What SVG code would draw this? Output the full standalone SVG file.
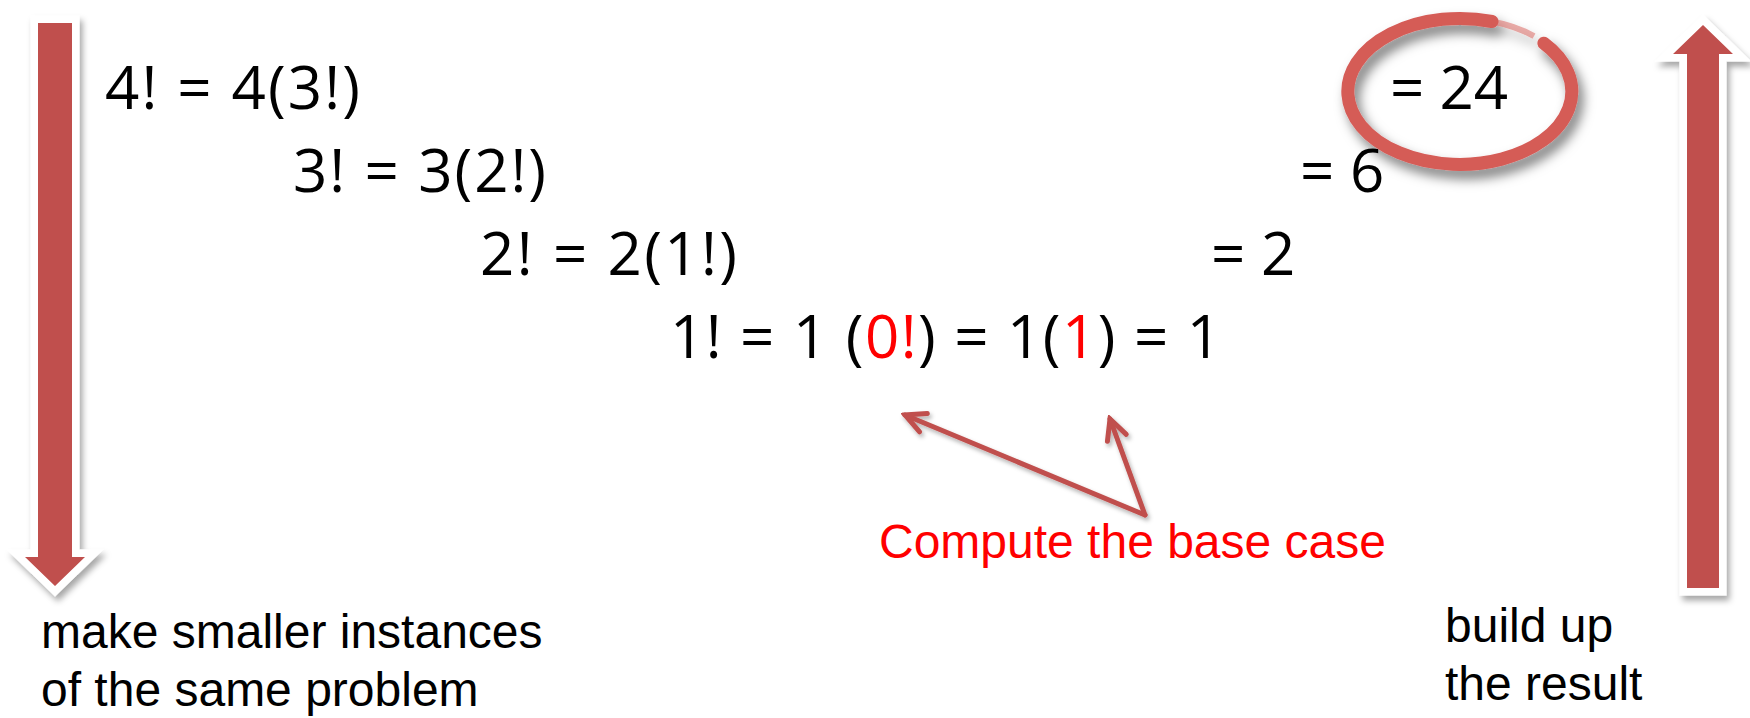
<svg xmlns="http://www.w3.org/2000/svg" width="1750" height="718" viewBox="0 0 1750 718">
<style>
  .math { font-family: "Open Sans", "Noto Sans", sans-serif; font-size: 60px; fill: #000; }
  .red { fill: #FF0000; }
  .label { font-family: "Liberation Sans", Arial, sans-serif; font-size: 48px; fill: #000; }
  .note { font-family: "Liberation Sans", Arial, sans-serif; font-size: 48px; fill: #FF0000; }
  .block { fill: #C0504D; stroke: #FFFFFF; stroke-width: 15; stroke-linejoin: miter; paint-order: stroke; }
  .conn { fill: none; stroke: #C0504D; stroke-width: 5; stroke-linecap: round; }
</style>
<defs>
  <filter id="blockShadow" x="-50%" y="-10%" width="200%" height="120%">
    <feDropShadow dx="3" dy="5" stdDeviation="3" flood-color="#000" flood-opacity="0.35"/>
  </filter>
  <filter id="ringShadow" x="-20%" y="-20%" width="140%" height="150%">
    <feDropShadow dx="5" dy="8" stdDeviation="6" flood-color="#000" flood-opacity="0.5"/>
  </filter>
  <filter id="lineShadow" x="-20%" y="-20%" width="140%" height="140%">
    <feDropShadow dx="2" dy="3" stdDeviation="2" flood-color="#000" flood-opacity="0.3"/>
  </filter>
  <marker id="chev" viewBox="-3 -3 27 26" refX="20" refY="10" markerWidth="27" markerHeight="26" markerUnits="userSpaceOnUse" orient="auto">
    <path d="M0,0 L20,10 L0,20" fill="none" stroke="#C0504D" stroke-width="5" stroke-linecap="round" stroke-linejoin="miter"/>
  </marker>
</defs>
<rect width="1750" height="718" fill="#FFFFFF"/>

<g id="arrow-down" filter="url(#blockShadow)">
  <path class="block" d="M38,23 L72,23 L72,557 L85,557 L55,586 L25,557 L38,557 Z"/>
</g>
<g id="arrow-up" filter="url(#blockShadow)">
  <path class="block" d="M1703,25 L1733,54 L1719,54 L1719,588 L1687,588 L1687,54 L1673,54 Z"/>
</g>

<g id="ring" filter="url(#ringShadow)">
  <path d="M1543.9,43.2 A112,73 0 1 1 1492,21.5" fill="none" stroke="#D55B57" stroke-width="13" stroke-linecap="round"/>
  <path d="M1492,21.5 A112,73 0 0 1 1534,36.1" fill="none" stroke="#D55B57" stroke-width="6" stroke-opacity="0.5"/>
</g>

<g id="line1"><text class="math" x="105" y="109" textLength="255" lengthAdjust="spacing">4! = 4(3!)</text></g>
<g id="line2"><text class="math" x="293" y="192" textLength="253" lengthAdjust="spacing">3! = 3(2!)</text></g>
<g id="line3"><text class="math" x="480" y="275" textLength="257" lengthAdjust="spacing">2! = 2(1!)</text></g>
<g id="line4"><text class="math" x="670" y="358" textLength="551" lengthAdjust="spacing">1! = 1 (<tspan class="red">0!</tspan>) = 1(<tspan class="red">1</tspan>) = 1</text></g>

<g id="res24"><text class="math" x="1390" y="109" textLength="118" lengthAdjust="spacing">= 24</text></g>
<g id="res6"><text class="math" x="1300" y="192">= 6</text></g>
<g id="res2"><text class="math" x="1211" y="275">= 2</text></g>

<g id="connectors" filter="url(#lineShadow)">
  <path class="conn" d="M1145,515 L905,415" marker-end="url(#chev)"/>
  <path class="conn" d="M1145,515 L1110,419" marker-end="url(#chev)"/>
</g>

<g id="base-case-label"><text class="note" x="879" y="558">Compute the base case</text></g>

<g id="left-label">
  <text class="label" x="41" y="648">make smaller instances</text>
  <text class="label" x="41" y="706">of the same problem</text>
</g>
<g id="right-label">
  <text class="label" x="1445" y="642">build up</text>
  <text class="label" x="1445" y="700">the result</text>
</g>
</svg>
